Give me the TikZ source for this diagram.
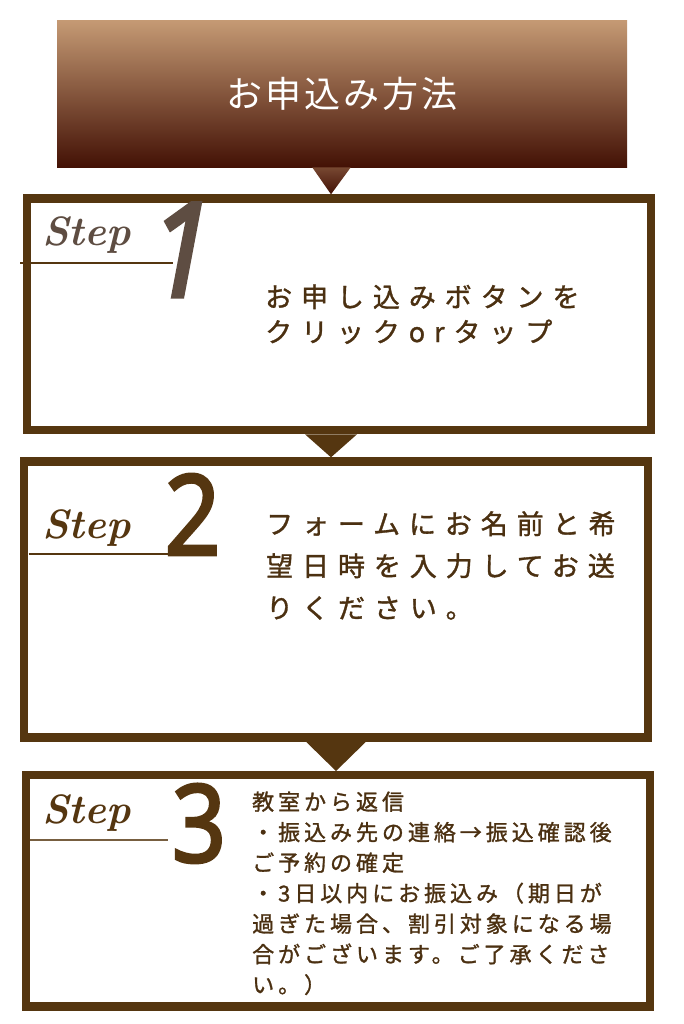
\documentclass[tikz,border=0pt]{standalone}
\usepackage{fontspec}
\newfontfamily\jptitle{Noto Sans CJK JP}[LetterSpace=8]
\newfontfamily\jpbig{Noto Sans CJK JP}[LetterSpace=33,FakeBold=1.2]
\newfontfamily\jpsmall{Noto Sans CJK JP}[LetterSpace=18,FakeBold=1.2]
\newfontfamily\numfnt{Noto Sans}[FakeBold=2.5]
\usetikzlibrary{calc}
\definecolor{brn}{HTML}{553610}
\definecolor{txt}{HTML}{4B3011}
\definecolor{gry}{HTML}{5E4D42}
\definecolor{ttop}{HTML}{C59A74}
\definecolor{tbot}{HTML}{431105}
\begin{document}
\begin{tikzpicture}[x=1pt,y=-1pt,
  titlebox/.style={minimum width=570,minimum height=147,inner sep=0,top color=ttop,bottom color=tbot,text=white,font=\jptitle\fontsize{36}{40}\selectfont},
  stepbox/.style={draw=brn,line width=8.4,minimum width=624,minimum height=#1,inner sep=0},
  steplbl/.style={anchor=base west,inner sep=0,font=\fontsize{41}{46}\selectfont\bfseries\itshape},
  numlbl/.style={anchor=base,inner sep=0,xscale=0.88,transform shape,font=\numfnt\fontsize{#1}{#1}\selectfont},
  bodybig/.style={anchor=base west,inner sep=0,text=txt,font=\jpbig\fontsize{27}{30}\selectfont},
  bodysmall/.style={anchor=base west,inner sep=0,text=txt,font=\jpsmall\fontsize{22}{25}\selectfont}]
\fill[white](0,0)rectangle(683,1024);
\useasboundingbox(0,0)rectangle(683,1024);
%
\node[titlebox](title)at(342,93.7){お申込み方法};
\node[stepbox=231.6](s1)at(338.7,314.3){};
\node[stepbox=276](s2)at(336.2,599.5){};
\node[stepbox=231.3](s3)at(338.2,890.9){};
%
\shade[top color=ttop!40!tbot,bottom color=tbot]($(title.south)+(-29.7,0)$)--++(38.4,0)--($(s1.north)+(-7.7,0)$)--cycle;
\fill[brn]($(s1.south)+(-33.7,0)$)--++(52,0)--($(s2.north)+(-5.2,0)$)--cycle;
\fill[brn]($(s2.south)+(-30.2,0)$)--++(60,0)--($(s3.north)+(-2.2,0)$)--cycle;
%
\node[steplbl,text=gry](st1)at(42,245){Step};
\node[steplbl,text=brn](st2)at(42,538){Step};
\node[steplbl,text=brn](st3)at(42,823){Step};
\draw[brn,line width=2](20,262.7)--(173,262.7);
\draw[brn,line width=2](28.6,554)--(176,554);
\draw[brn!80,line width=1.6](30,840)--(168,840);
\node[numlbl=132,text=gry](n1)at(181,297){\itshape 1};
\node[numlbl=112,text=brn](n2)at(192.5,555){2};
\node[numlbl=108,text=brn](n3)at(199,862){3};
%
\foreach \t[count=\i] in {お申し込みボタンを,クリックorタップ}
  \node[bodybig](b1-\i)at(265,{307+35*(\i-1)}){\t};
\foreach \t[count=\i] in {フォームにお名前と希,望日時を入力してお送,りください。}
  \node[bodybig](b2-\i)at(266,{534+42*(\i-1)}){\t};
\foreach \t[count=\i] in {教室から返信,・振込み先の連絡→振込確認後,ご予約の確定,・3日以内にお振込み（期日が,過ぎた場合、割引対象になる場,合がございます。ご了承くださ,い。）}
  \node[bodysmall](b3-\i)at(252,{810+30.5*(\i-1)}){\t};
\end{tikzpicture}
\end{document}
